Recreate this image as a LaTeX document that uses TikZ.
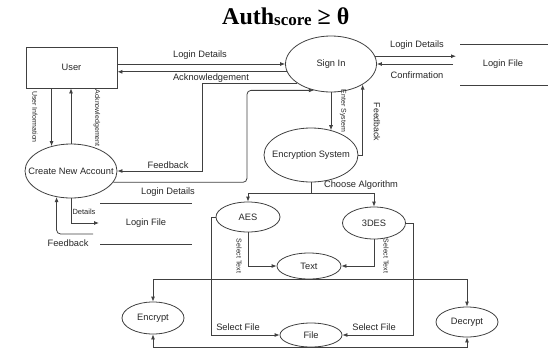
\documentclass[tikz,border=0pt]{standalone}
\usepackage{fontspec}
\setmainfont{Liberation Sans}
\newfontfamily\titlefont{Liberation Serif}
\usetikzlibrary{shapes.geometric,arrows.meta}
\colorlet{lineGray}{black!75}
\colorlet{textGray}{black!85}

\begin{document}
\begin{tikzpicture}[
    x=1pt, y=-1pt,
    font=\fontsize{9.3}{11}\selectfont,
    text=textGray,
    arr/.style={draw=lineGray, line width=0.8pt, -{Latex[length=5pt,width=4pt]}},
    flow/.style={draw=lineGray, line width=0.8pt},
    proc/.style={
        ellipse,
        draw=lineGray,
        line width=0.8pt,
        inner xsep=-12pt,
        inner ysep=0pt,
      },
    ent/.style={
        rectangle,
        draw=lineGray,
        line width=0.8pt,
        minimum width=91pt,
        minimum height=41pt,
      },
    lbl/.style={inner sep=0pt},
    tiny/.style={rotate=-90, inner sep=0pt, font=\fontsize{7}{8}\selectfont},
  ]
  \useasboundingbox (0,0) rectangle (548,351);

  \node[lbl, anchor=base west, text=black,
    font=\titlefont\fontsize{24}{24}\selectfont\bfseries] (title) at (222,24)
    {Auth\raisebox{-1pt}{\fontsize{17}{17}\selectfont score} ≥ θ};

  % entities and processes
  \node[ent] (user) at (71.5,67.5) {User};
  \node[proc, minimum width=91pt, minimum height=56pt] (signin) at (331,64) {Sign In};
  \node[proc, minimum width=92pt, minimum height=54pt] (cna) at (71,171) {Create New Account};
  \node[proc, minimum width=94pt, minimum height=54pt] (encsys) at (311,155) {Encryption System};
  \node[proc, minimum width=64pt, minimum height=30pt] (aes) at (248,217) {AES};
  \node[proc, minimum width=63pt, minimum height=32pt] (tdes) at (374,223) {3DES};
  \node[proc, minimum width=64pt, minimum height=26pt] (text) at (309,266) {Text};
  \node[proc, minimum width=62pt, minimum height=24pt] (file) at (311,335) {File};
  \node[proc, minimum width=62pt, minimum height=32pt] (encrypt) at (153,318) {Encrypt};
  \node[proc, minimum width=62pt, minimum height=30pt] (decrypt) at (467,322) {Decrypt};

  % data stores
  \node[lbl] (lfile) at (503,64) {Login File};
  \draw[flow] (460,44) -- (548,44) (460,85) -- (548,85);
  \node[lbl] (lfile2) at (146,223) {Login File};
  \draw[flow] (100,203) -- (192,203) (100,244) -- (192,244);

  \coordinate (lfin) at (456,0);
  \coordinate (lfout) at (453,64);
  \coordinate (fbturn) at (202,171);
  \coordinate (lgx) at (247,0);
  \coordinate (chs) at (311,193);
  \coordinate (aesx) at (211,0);
  \coordinate (tdesx) at (413,0);
  \coordinate (dtip) at (99,223);
  \coordinate (fbin) at (93,234);

  % flows
  \draw[arr] ([yshift=3.5pt]user.east) -- (signin.west);
  \draw[arr] (signin.190) -- (signin.190 -| user.east);
  \draw[arr] (signin.10) -- (signin.10 -| lfin);
  \draw[arr] (lfout) -- (signin.east);
  \draw[arr] (signin.210) -| (fbturn) -- (cna.east);
  \draw[arr, rounded corners=4pt] (cna.345) -| (signin.237 -| lgx) -- (signin.237);
  \draw[arr] (signin.south) -- (signin.south |- encsys.51);
  \draw[arr] (encsys.east) -| (signin.327);
  \draw[flow] (encsys.south) -- (chs);
  \draw[arr] (chs) -| (aes.north);
  \draw[arr] (chs) -| (tdes.north);
  \draw[arr] (aes.south) |- (text.west);
  \draw[arr] (tdes.south) |- (text.east);
  \draw[arr] (aes.west) -- (aes.west -| aesx) |- (file.west);
  \draw[arr] (tdes.east) -- (tdes.east -| tdesx) |- (file.east);
  \draw[arr] (text.south) -| (encrypt.north);
  \draw[arr] (text.south) -| (decrypt.north);
  \draw[arr] (file.south) -| (encrypt.south);
  \draw[arr] (file.south) -| (decrypt.south);
  \draw[arr] (user.south -| cna.128) -- (cna.128);
  \draw[arr] (cna.north) -- (cna.north |- user.south);
  \draw[arr] (cna.south) |- (dtip);
  \draw[arr, rounded corners=4pt] (fbin) -| (cna.241);

  % labels
  \node[lbl] (ldUser) at (200,55) {Login Details};
  \node[lbl] (ackUser) at (211,78) {Acknowledgement};
  \node[lbl] (ldFile) at (417,45) {Login Details};
  \node[lbl] (conf) at (417,75) {Confirmation};
  \node[lbl] (fbSign) at (168,165) {Feedback};
  \node[lbl] (ldCna) at (168,192) {Login Details};
  \node[lbl] (fbCna) at (68,243) {Feedback};
  \node[lbl] (choose) at (361,185) {Choose Algorithm};
  \node[lbl] (sfL) at (238,327) {Select File};
  \node[lbl] (sfR) at (374,327) {Select File};
  \node[lbl, font=\fontsize{7.5}{9}\selectfont] (det) at (84,212) {Details};
  \node[tiny] (uinfo) at (35,117) {User Information};
  \node[tiny] (ackCna) at (97,118) {Acknowledgement};
  \node[tiny] (enter) at (343,111) {Enter System};
  \node[tiny, font=\fontsize{8.7}{10}\selectfont] (fbEnc) at (377,122) {Feedback};
  \node[tiny] (stL) at (239,256) {Select Text};
  \node[tiny] (stR) at (386,256) {Select Text};
\end{tikzpicture}
\end{document}
